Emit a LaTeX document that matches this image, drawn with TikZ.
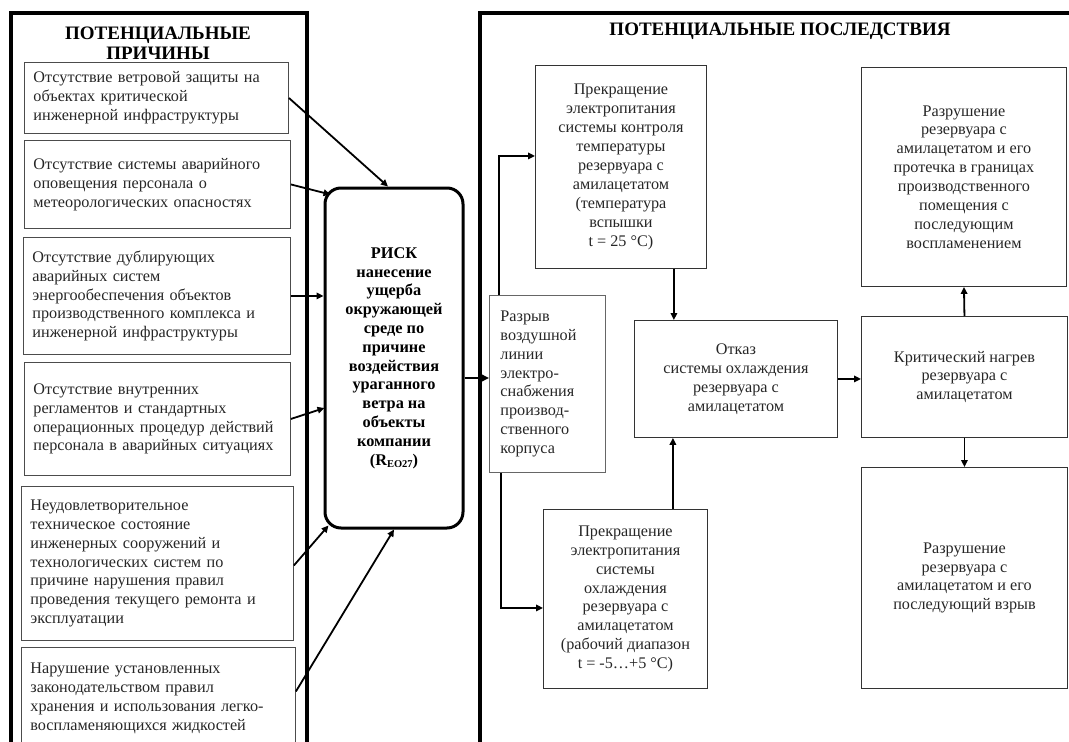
\documentclass[tikz,border=0pt]{standalone}
\usepackage{fontspec}
\setmainfont{Liberation Serif}
\usetikzlibrary{arrows.meta,calc}
\begin{document}
\begin{tikzpicture}[x=1pt,y=-1pt,
  txt/.style={font=\fontsize{16.2}{18.9}\selectfont, text=black!85},
  cbox/.style={draw=black!80, line width=0.9pt, anchor=north west, inner sep=0pt, align=center, txt},
  lbox/.style={draw=black!70, line width=0.9pt, anchor=north west, inner xsep=9pt, inner ysep=0pt, align=left, txt},
  panel/.style={line width=3.2pt, black},
  ttl/.style={font=\bfseries\fontsize{19}{20.5}\selectfont, align=center, inner sep=0pt},
  arr/.style={line width=1.8pt, -{Triangle[length=7pt,width=6.5pt]}},
  riskbox/.style={draw, line width=3pt, rounded corners=16pt, minimum width=138pt, minimum height=340pt,
     align=center, inner sep=0pt, font=\bfseries\fontsize{16.3}{18.8}\selectfont}
]
\useasboundingbox (0,0) rectangle (1069,742);
\clip (0,0) rectangle (1069,742);

% panels
\draw[panel] (11,760) -- (11,13) -- (307,13) -- (307,760);
\draw[panel] (480,760) -- (480,13) -- (1080,13);

\node[ttl] (tl) at (158,43) {ПОТЕНЦИАЛЬНЫЕ\\ПРИЧИНЫ};
\node[ttl] (tr) at (780,31) {ПОТЕНЦИАЛЬНЫЕ ПОСЛЕДСТВИЯ};

% causes
\node[lbox, minimum width=264pt, minimum height=71pt, text width=246pt] (b1) at (24,62)
  {Отсутствие ветровой защиты на\\объектах критической\\инженерной инфраструктуры};
\node[lbox, minimum width=266pt, minimum height=88pt, text width=248pt] (b2) at (24,140)
  {Отсутствие системы аварийного\\оповещения персонала о\\метеорологических опасностях};
\node[lbox, minimum width=267pt, minimum height=117pt, text width=249pt] (b3) at (23,237)
  {Отсутствие дублирующих\\аварийных систем\\энергообеспечения объектов\\производственного комплекса и\\инженерной инфраструктуры};
\node[lbox, minimum width=266pt, minimum height=113pt, text width=248pt] (b4) at (24,362)
  {Отсутствие внутренних\\регламентов и стандартных\\операционных процедур действий\\персонала в аварийных ситуациях};
\node[lbox, minimum width=272pt, minimum height=154pt, text width=254pt] (b5) at (21,486)
  {Неудовлетворительное\\техническое состояние\\инженерных сооружений и\\технологических систем по\\причине нарушения правил\\проведения текущего ремонта и\\эксплуатации};
\node[lbox, minimum width=274pt, minimum height=102pt, text width=256pt] (b6) at (21,647)
  {Нарушение установленных\\законодательством правил\\хранения и использования легко-\\воспламеняющихся жидкостей};

% risk
\node[riskbox] (risk) at (394,358)
  {РИСК\\нанесение\\ущерба\\окружающей\\среде по\\причине\\воздействия\\ураганного\\ветра на\\объекты\\компании\\(R\raisebox{-0.35ex}{\fontsize{10.5}{10.5}\selectfont EO27})};

% consequences
\node[cbox, minimum width=171pt, minimum height=203pt] (r1) at (535,65)
  {Прекращение\\электропитания\\системы контроля\\температуры\\резервуара с\\амилацетатом\\(температура\\вспышки\\t = 25 °C)};
\node[cbox, minimum width=205pt, minimum height=219pt] (r2) at (861,67)
  {Разрушение\\резервуара с\\амилацетатом и его\\протечка в границах\\производственного\\помещения с\\последующим\\воспламенением};
\node[lbox, draw=black!60, minimum width=116pt, minimum height=177pt, inner xsep=11pt, text width=94pt] (r3) at (489,295)
  {Разрыв\\воздушной\\линии\\электро-\\снабжения\\производ-\\ственного\\корпуса};
\node[cbox, minimum width=164pt, minimum height=179pt] (r4) at (543,509)
  {Прекращение\\электропитания\\системы\\охлаждения\\резервуара с\\амилацетатом\\(рабочий диапазон\\t = -5…+5 °C)};
\node[cbox, minimum width=203pt, minimum height=117pt] (r5) at (634,320)
  {Отказ\\системы охлаждения\\резервуара с\\амилацетатом};
\node[cbox, minimum width=206pt, minimum height=121pt] (r6) at (861,316)
  {Критический нагрев\\резервуара с\\амилацетатом};
\node[cbox, minimum width=206pt, minimum height=221pt] (r7) at (861,467)
  {Разрушение\\резервуара с\\амилацетатом и его\\последующий взрыв};

% cause arrows
\draw[arr] (b1.east) -- ($(risk.north)+(-6,0)$);
\draw[arr] (b2.east) -- ($(risk.north west)+(7,8)$);
\draw[arr] (b3.east) -- (b3.east -| risk.west);
\draw[arr] (b4.east) -- ($(risk.west)+(1,50)$);
\draw[arr] ($(b5.east)+(0,2)$) -- ($(risk.south west)+(5,-4)$);
\draw[arr] ($(b6.east)+(0,-7)$) -- (risk.south);

% consequence arrows
\coordinate (rk) at ($(risk.east)+(0,20)$);
\draw[arr] (rk) -- (rk -| r3.west);
\draw[arr] ($(r3.north west)+(10,0)$) |- ($(r1.west)+(0,-11)$);
\draw[arr] ($(r3.south west)+(12,0)$) |- ($(r4.west)+(0,9)$);
\coordinate (r1b) at ($(r1.south east)+(-33,0)$);
\draw[arr] (r1b) -- (r1b |- r5.north);
\coordinate (r4t) at ($(r4.north east)+(-35,0)$);
\draw[arr] (r4t) -- (r4t |- r5.south);
\draw[arr] (r5.east) -- (r5.east -| r6.west);
\draw[arr] (r6.north) -- (r2.south);
\draw[arr] (r6.south) -- (r7.north);
\end{tikzpicture}
\end{document}
